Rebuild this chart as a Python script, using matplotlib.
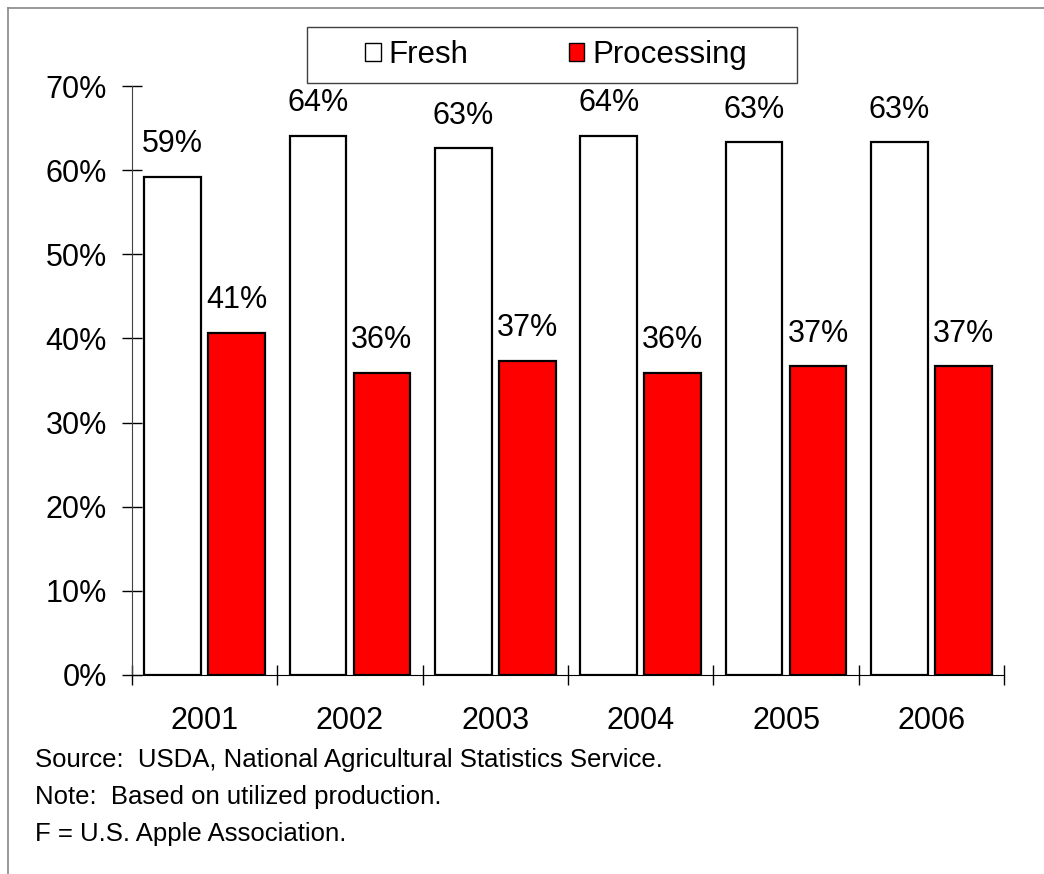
import numpy as np
import matplotlib.pyplot as plt
import matplotlib as mpl
from matplotlib.patches import Patch, Rectangle
from matplotlib.lines import Line2D

mpl.rcParams['font.family'] = ['Liberation Sans', 'DejaVu Sans']

# ---------- data ----------
years = ['2001', '2002', '2003', '2004', '2005', '2006']
fresh = [59.2, 64.1, 62.6, 64.1, 63.3, 63.3]
processing = [40.7, 35.9, 37.3, 35.9, 36.7, 36.7]
fresh_labels = ['59%', '64%', '63%', '64%', '63%', '63%']
proc_labels = ['41%', '36%', '37%', '36%', '37%', '37%']
notes = ['Source:  USDA, National Agricultural Statistics Service.',
         'Note:  Based on utilized production.',
         'F = U.S. Apple Association.']

W, H = 1044, 874
fig = plt.figure(figsize=(W / 100, H / 100), dpi=100)
ax = fig.add_axes([0.1264, 0.2277, 0.8353, 0.6739])

x = np.arange(len(years))
w = 0.39
off = 0.22
ax.bar(x - off, fresh, w, color='white', edgecolor='black', linewidth=1.6, label='Fresh')
ax.bar(x + off, processing, w, color='#ff0000', edgecolor='black', linewidth=1.6, label='Processing')

for i in range(len(years)):
    ax.text(x[i] - off, fresh[i] + 2.1, fresh_labels[i], ha='center', va='bottom', fontsize=22)
    ax.text(x[i] + off, processing[i] + 2.1, proc_labels[i], ha='center', va='bottom', fontsize=22)

ax.set_xlim(-0.5, len(years) - 0.5)
ax.set_ylim(0, 70)
ax.set_yticks(np.arange(0, 71, 10))
ax.set_yticklabels([f'{v}%' for v in range(0, 71, 10)], fontsize=22)
ax.tick_params(axis='y', direction='inout', length=14, width=1, pad=11)

# year ticks at group borders, labels centered
ax.set_xticks(np.arange(-0.5, len(years), 1.0))
ax.set_xticklabels([])
ax.set_xticks(x, minor=True)
ax.set_xticklabels(years, minor=True, fontsize=22)
ax.tick_params(axis='x', which='major', direction='inout', length=14, width=1)
ax.tick_params(axis='x', which='minor', length=0, pad=22)

for s in ['top', 'right']:
    ax.spines[s].set_visible(False)
ax.spines['left'].set_color('#404040')
ax.spines['bottom'].set_color('black')

# legend box drawn by hand, legend itself frameless
fig.add_artist(Rectangle((307 / W, 1 - 83 / H), 490 / W, 56 / H, transform=fig.transFigure,
                         facecolor='white', edgecolor='#404040', linewidth=1.0))
fig.legend(handles=[Patch(facecolor='white', edgecolor='black', label='Fresh'),
                    Patch(facecolor='#ff0000', edgecolor='black', label='Processing')],
           loc='center', bbox_to_anchor=(556 / W, 1 - 55 / H), ncol=2, fontsize=22.5,
           frameon=False, handlelength=0.5, handleheight=0.5,
           handletextpad=0.25, columnspacing=3.2, borderpad=0.0)

for i, t in enumerate(notes):
    fig.text(35 / W, 1 - (760 + 37 * i) / H, t, fontsize=18.5, va='center', ha='left')

# outer frame (only top and left visible)
fig.add_artist(Line2D([8 / W, 1], [1 - 7.5 / H, 1 - 7.5 / H], color='#888888', lw=1.2))
fig.add_artist(Line2D([8 / W, 8 / W], [0, 1 - 7.5 / H], color='#888888', lw=1.2))

fig.savefig('out.png', dpi=100)
